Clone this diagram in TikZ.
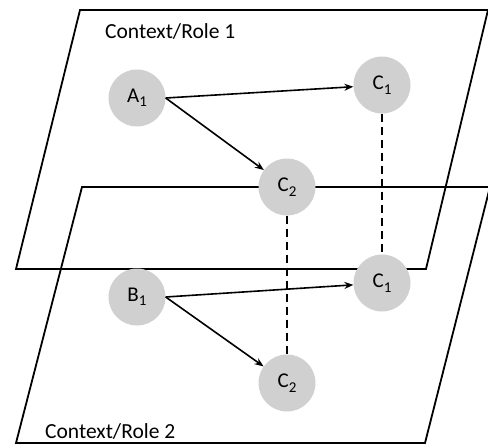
\documentclass[tikz,border=0pt]{standalone}
\usepackage{fontspec}
\setmainfont{Carlito}
\usetikzlibrary{arrows.meta}
\definecolor{nodegray}{HTML}{D0D0D0}
\newcommand{\lbl}[2]{#1\raisebox{-0.45ex}{\fontsize{15}{15}\selectfont #2}}
\tikzset{
  plane/.style={line width=1.8pt, line join=miter},
  concept/.style={circle, fill=nodegray, minimum size=57pt, inner sep=0pt, font=\fontsize{21}{21}\selectfont},
  arr/.style={line width=1.6pt, -{Stealth[length=9pt,width=7pt]}},
  link/.style={line width=1.7pt, dash pattern=on 8pt off 5pt},
  title/.style={font=\fontsize{21.5}{22}\selectfont, anchor=west, inner sep=0pt}
}
\begin{document}
\begin{tikzpicture}[x=1pt,y=-1pt]
\useasboundingbox (0,0) rectangle (488,445);
% planes
\draw[plane] (80,10) -- (488,10) -- (426,269) -- (16,269) -- cycle;
\draw[plane] (82,187) -- (490,187) -- (425,443) -- (16,443) -- cycle;
\node[title] (t1) at (105,31) {Context/Role 1};
\node[title] (t2) at (45,431) {Context/Role 2};
% nodes
\node[concept] (A1) at (137,98) {\lbl{A}{1}};
\node[concept] (C1a) at (382,85) {\lbl{C}{1}};
\node[concept] (C2a) at (287,187) {\lbl{C}{2}};
\node[concept] (B1) at (137,297) {\lbl{B}{1}};
\node[concept] (C1b) at (382,283) {\lbl{C}{1}};
\node[concept] (C2b) at (287,383) {\lbl{C}{2}};
% connectors
\draw[arr] (A1.east) -- (C1a);
\draw[arr] (A1.east) -- (C2a);
\draw[arr] (B1.east) -- (C1b);
\draw[arr] (B1.east) -- (C2b);
\draw[link] (C1a.south) -- (C1b.north);
\draw[link] (C2a.south) -- (C2b.north);
\end{tikzpicture}
\end{document}
